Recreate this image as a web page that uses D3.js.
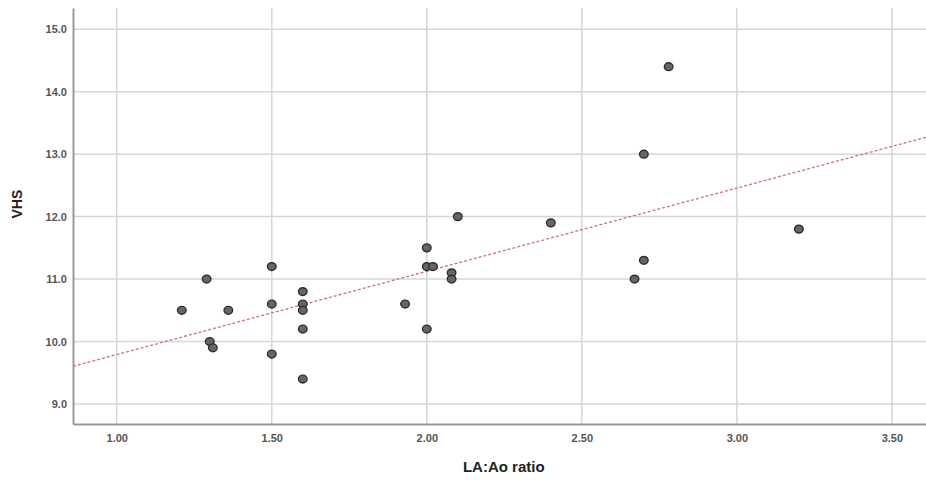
<!DOCTYPE html>
<html>
<head>
<meta charset="utf-8">
<script src="https://cdn.jsdelivr.net/npm/d3@7"></script>
<style>
  body { margin: 0; background: #fff; }
  text { font-family: "Liberation Sans", Arial, sans-serif; }
</style>
</head>
<body>
<svg id="chart" width="926" height="480"></svg>
<script>
// LA:Ao ratio vs VHS
const laAo = [1.21, 1.29, 1.36, 1.30, 1.31, 1.50, 1.50, 1.50, 1.60, 1.60, 1.60, 1.60, 1.60, 1.93,
              2.00, 2.00, 2.02, 2.08, 2.08, 2.00, 2.10, 2.40, 2.70, 2.67, 2.78, 2.70, 3.20];
const vhs  = [10.5, 11.0, 10.5, 10.0, 9.9, 11.2, 10.6, 9.8, 10.8, 10.6, 10.5, 10.2, 9.4, 10.6,
              11.5, 11.2, 11.2, 11.1, 11.0, 10.2, 12.0, 11.9, 11.3, 11.0, 14.4, 13.0, 11.8];
const xTicks = [1.0, 1.5, 2.0, 2.5, 3.0, 3.5];
const yTicks = [9, 10, 11, 12, 13, 14, 15];

const data = laAo.map((x, i) => ({ x: x, y: vhs[i] }));

// Set dimensions and margins
const margin = { top: 8, right: 0, bottom: 56, left: 73 };
const width = 926 - margin.left - margin.right;
const height = 480 - margin.top - margin.bottom;

const svg = d3.select("#chart")
    .append("g")
    .attr("transform", `translate(${margin.left},${margin.top})`);

// Set up scales
const xScale = d3.scaleLinear()
    .domain([0.859, 3.61])
    .range([0, width]);

const yScale = d3.scaleLinear()
    .domain([8.68, 15.34])
    .range([height, 0]);

// Grid lines
svg.append("g")
    .selectAll("line")
    .data(xTicks)
    .join("line")
    .attr("x1", d => xScale(d))
    .attr("x2", d => xScale(d))
    .attr("y1", 0)
    .attr("y2", height)
    .attr("stroke", "#d6d6d6")
    .attr("stroke-width", 1.5);

svg.append("g")
    .selectAll("line")
    .data(yTicks)
    .join("line")
    .attr("x1", 0)
    .attr("x2", width)
    .attr("y1", d => yScale(d))
    .attr("y2", d => yScale(d))
    .attr("stroke", "#d6d6d6")
    .attr("stroke-width", 1.5);

// Axes (no tick marks, just the line and labels)
const xAxis = svg.append("g")
    .attr("transform", `translate(0,${height})`)
    .call(d3.axisBottom(xScale).tickValues(xTicks).tickFormat(d3.format(".2f")).tickSize(0).tickPadding(10));

const yAxis = svg.append("g")
    .call(d3.axisLeft(yScale).tickValues(yTicks).tickFormat(d3.format(".1f")).tickSize(0).tickPadding(6));

[xAxis, yAxis].forEach(a => {
    a.select(".domain").attr("stroke", "#999").attr("stroke-width", 2);
    a.selectAll("text")
        .attr("fill", "#555")
        .attr("font-size", 11)
        .attr("font-weight", "bold")
        .attr("font-family", "Liberation Sans, Arial, sans-serif");
});

// Fit line (least squares)
const mx = d3.mean(data, d => d.x);
const my = d3.mean(data, d => d.y);
const slope = d3.sum(data, d => (d.x - mx) * (d.y - my)) / d3.sum(data, d => (d.x - mx) ** 2);
const intercept = my - slope * mx;
const [x0, x1] = xScale.domain();

svg.append("line")
    .attr("x1", xScale(x0))
    .attr("x2", xScale(x1))
    .attr("y1", yScale(intercept + slope * x0))
    .attr("y2", yScale(intercept + slope * x1))
    .attr("stroke", "#cf6f80")
    .attr("stroke-width", 1.3)
    .attr("stroke-dasharray", "3,2");

// Points
svg.append("g")
    .selectAll("ellipse")
    .data(data)
    .join("ellipse")
    .attr("cx", d => xScale(d.x))
    .attr("cy", d => yScale(d.y))
    .attr("rx", 4.3)
    .attr("ry", 3.9)
    .attr("fill", "#666")
    .attr("stroke", "#2e2e2e")
    .attr("stroke-width", 1.4);

// Axis titles
svg.append("text")
    .attr("x", xScale(2.0) + 77)
    .attr("y", height + 48)
    .attr("text-anchor", "middle")
    .attr("font-size", 15)
    .attr("font-weight", "bold")
    .attr("fill", "#222")
    .text("LA:Ao ratio");

svg.append("text")
    .attr("transform", `translate(${-margin.left + 22},${yScale(12.2)}) rotate(-90)`)
    .attr("text-anchor", "middle")
    .attr("font-size", 14)
    .attr("font-weight", "bold")
    .attr("fill", "#222")
    .text("VHS");
</script>
</body>
</html>
